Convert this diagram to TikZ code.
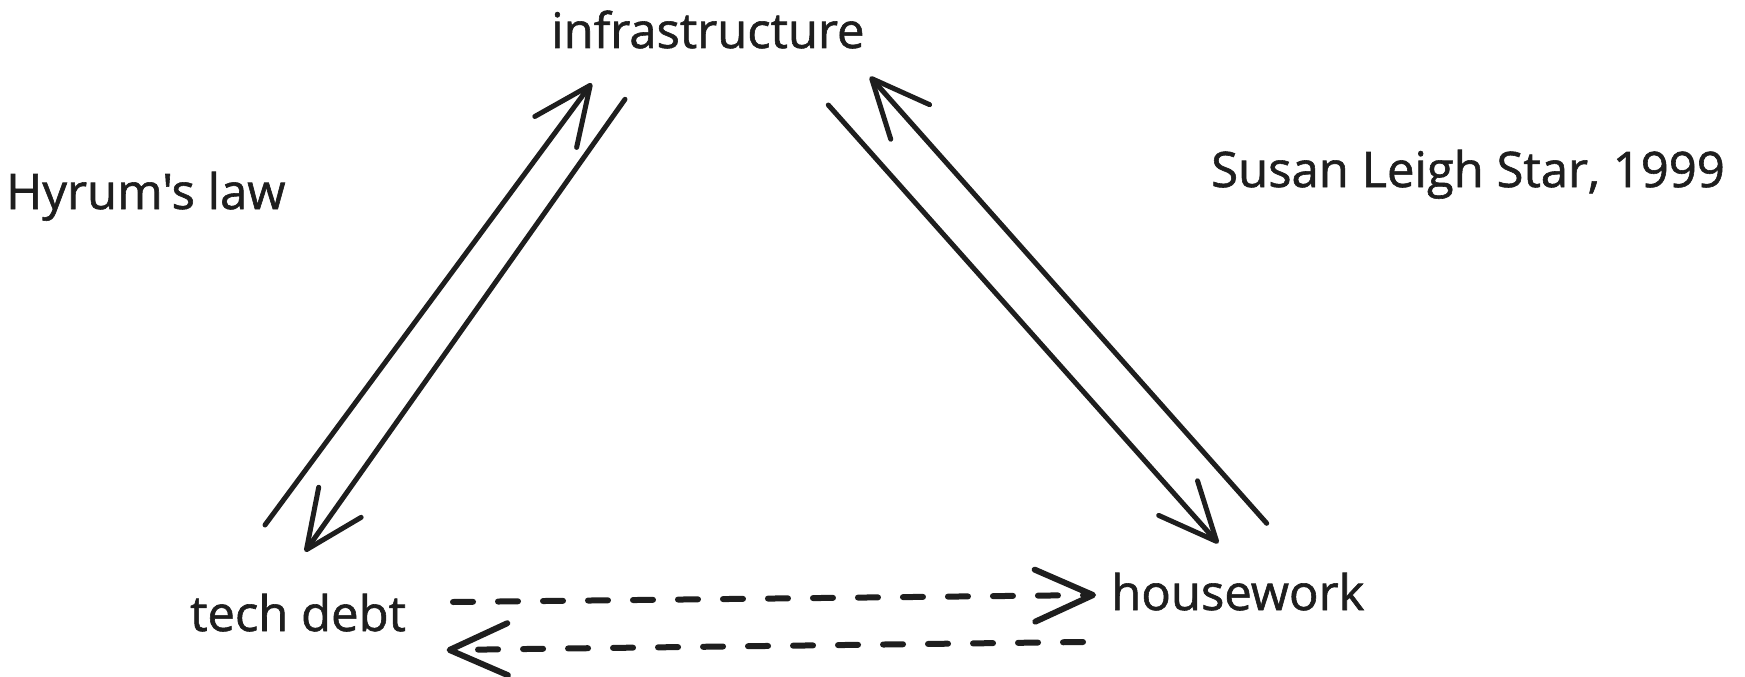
\documentclass[tikz,border=0pt]{standalone}
\usepackage{fontspec}
\newfontfamily\lblfont{Open Sans}[FakeBold=1.2]
\usetikzlibrary{arrows.meta}
\definecolor{ink}{HTML}{1E1E1E}
\tikzset{
  lbl/.style={inner sep=0pt, anchor=base west, text=ink, font=\lblfont\fontsize{49}{58}\selectfont},
  link/.style={draw=ink, line width=5pt, line cap=round, line join=round,
    -{Straight Barb[length=58pt, width=52pt, line cap=round, line join=round]}},
  dlink/.style={link, line width=6pt, dash pattern=on 20pt off 25pt}
}
\begin{document}
\begin{tikzpicture}[x=1pt, y=-1pt]
\useasboundingbox[fill=white] (0,0) rectangle (1745,677);
\node[lbl] (infra) at (551,48) {infrastructure};
\node[lbl] (tech) at (190,631) {tech debt};
\node[lbl] (house) at (1111,610) {housework};
\node[lbl] (hyrum) at (6,209) {Hyrum's law};
\node[lbl] (star) at (1211,187) {Susan Leigh Star, 1999};
% connector end points
\coordinate (t1) at (265,525);   \coordinate (i1) at (591.7,83.3);
\coordinate (i2) at (625,99.3);  \coordinate (t2) at (305,551.7);
\coordinate (h3) at (1266.7,523.3); \coordinate (i3) at (870,76.7);
\coordinate (i4) at (828.3,105); \coordinate (h4) at (1218.3,543.3);
\coordinate (t5) at (453,602);   \coordinate (h5) at (1096,595);
\coordinate (h6) at (1083,642);  \coordinate (t6) at (446.6,650);
\draw[link] (t1) -- (i1);
\draw[link] (i2) -- (t2);
\draw[link] (h3) -- (i3);
\draw[link] (i4) -- (h4);
\draw[dlink] (t5) -- (h5);
\draw[dlink] (h6) -- (t6);
\end{tikzpicture}
\end{document}
